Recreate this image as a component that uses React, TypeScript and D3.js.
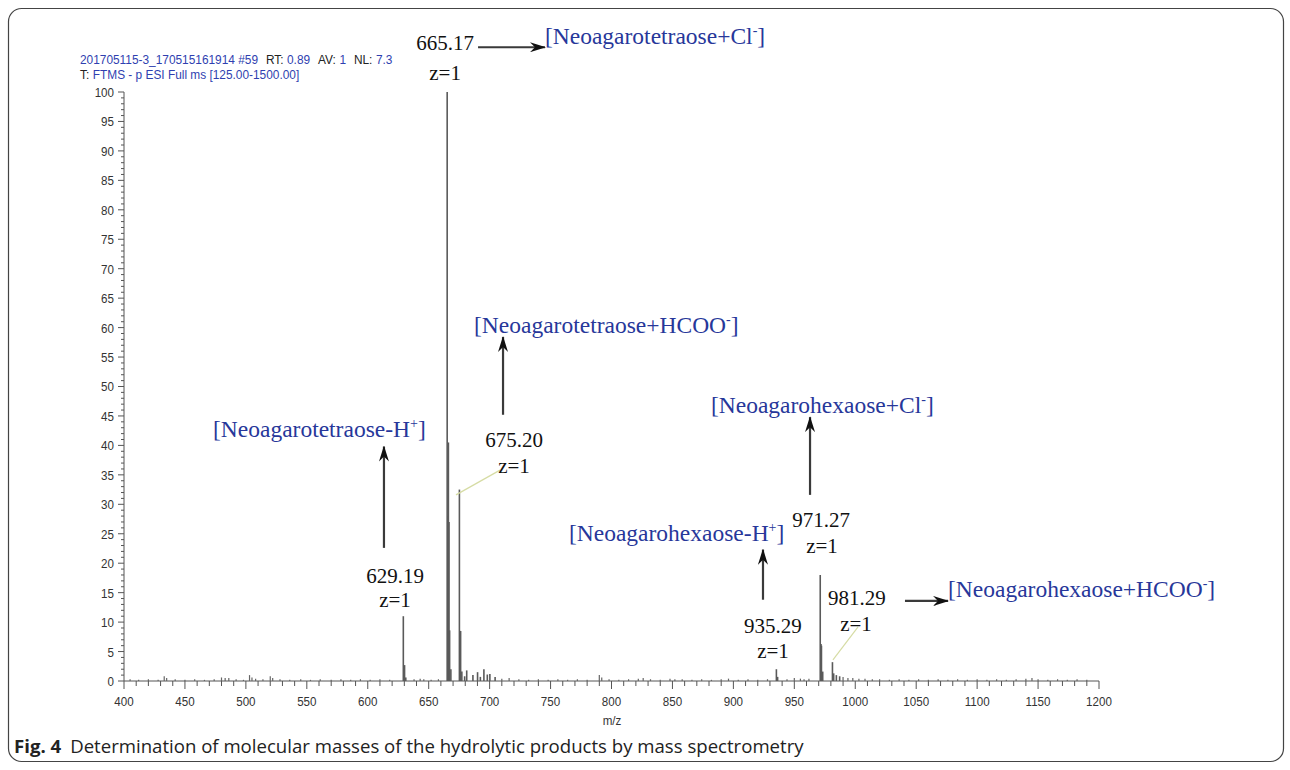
import React from "react";
import * as d3 from "d3";

// ---------- data ----------
const peakMz = [629.19, 630.2, 631.2, 665.17, 665.67, 666.17, 666.67, 667.17, 668.2, 675.2, 676.2, 677.2, 679.5, 681.2, 686.3, 690.1, 692.4, 695.3, 698.1, 700.2, 704.5, 935.29, 936.3, 971.27, 971.9, 972.27, 973.3, 981.29, 982.3, 984.5, 987.2];
const peakInt = [11.0, 2.7, 0.6, 100, 28.0, 40.5, 27.0, 8.6, 2.0, 32.5, 8.5, 1.6, 0.8, 1.8, 1.0, 1.5, 0.7, 2.0, 1.1, 1.2, 0.7, 2.0, 0.7, 18.0, 6.3, 6.0, 1.6, 3.2, 1.3, 1.0, 0.8];

const noiseMz = [405, 412, 420, 428, 433, 435, 442, 450, 458, 466, 474, 480, 483, 486, 492, 498, 503, 505, 508, 514, 520, 522, 528, 536, 545, 553, 561, 570, 578, 586, 594, 602, 610, 618, 638, 643, 646, 652, 658, 710, 716, 724, 732, 740, 748, 756, 764, 772, 780, 790, 792, 798, 806, 814, 822, 826, 832, 840, 848, 852, 858, 866, 874, 882, 890, 896, 904, 912, 920, 928, 944, 950, 955, 958, 962, 990, 994, 998, 1003, 1008, 1014, 1020, 1028, 1036, 1044, 1052, 1060, 1068, 1076, 1084, 1092, 1100, 1108, 1116, 1124, 1132, 1140, 1145, 1150, 1158, 1166, 1174, 1182, 1190];
const noiseInt = [0.3, 0.2, 0.3, 0.2, 0.8, 0.5, 0.3, 0.2, 0.3, 0.2, 0.3, 0.6, 0.5, 0.5, 0.3, 0.2, 1.0, 0.6, 0.4, 0.3, 0.8, 0.5, 0.3, 0.2, 0.3, 0.2, 0.3, 0.2, 0.3, 0.2, 0.3, 0.2, 0.3, 0.2, 0.3, 0.4, 0.3, 0.2, 0.3, 0.4, 0.5, 0.3, 0.2, 0.3, 0.2, 0.3, 0.2, 0.3, 0.2, 1.0, 0.6, 0.3, 0.2, 0.3, 0.4, 0.5, 0.3, 0.2, 0.4, 0.3, 0.3, 0.2, 0.3, 0.2, 0.3, 0.4, 0.2, 0.3, 0.2, 0.3, 0.3, 0.5, 0.4, 0.3, 0.4, 0.7, 0.5, 0.5, 0.4, 0.4, 0.3, 0.3, 0.2, 0.3, 0.2, 0.3, 0.2, 0.3, 0.2, 0.3, 0.2, 0.3, 0.2, 0.3, 0.2, 0.3, 0.4, 0.5, 0.3, 0.2, 0.3, 0.2, 0.3, 0.2];

const xTicks = d3.range(400, 1201, 50);
const yTicks = d3.range(0, 101, 5);

type Lbl = { text: string; sup?: string; mz: number; v: number; anchor: "start" | "middle"; color: string };
const ionLabels: Lbl[] = [
  { text: "[Neoagarotetraose+Cl", sup: "-", mz: 745.4, v: 108.1, anchor: "start", color: "#27379a" },
  { text: "[Neoagarotetraose+HCOO", sup: "-", mz: 687.2, v: 59.1, anchor: "start", color: "#27379a" },
  { text: "[Neoagarotetraose-H", sup: "+", mz: 473.0, v: 41.4, anchor: "start", color: "#27379a" },
  { text: "[Neoagarohexaose+Cl", sup: "-", mz: 881.6, v: 45.5, anchor: "start", color: "#27379a" },
  { text: "[Neoagarohexaose-H", sup: "+", mz: 765.1, v: 23.8, anchor: "start", color: "#27379a" },
  { text: "[Neoagarohexaose+HCOO", sup: "-", mz: 1076.1, v: 14.3, anchor: "start", color: "#27379a" },
];
const massLabels: Lbl[] = [
  { text: "665.17", mz: 663.5, v: 107.2, anchor: "middle", color: "#111" },
  { text: "z=1", mz: 663.5, v: 102.0, anchor: "middle", color: "#111" },
  { text: "675.20", mz: 720.0, v: 39.7, anchor: "middle", color: "#111" },
  { text: "z=1", mz: 720.0, v: 35.3, anchor: "middle", color: "#111" },
  { text: "629.19", mz: 622.4, v: 16.6, anchor: "middle", color: "#111" },
  { text: "z=1", mz: 622.4, v: 12.6, anchor: "middle", color: "#111" },
  { text: "971.27", mz: 971.9, v: 26.1, anchor: "middle", color: "#111" },
  { text: "z=1", mz: 972.7, v: 21.7, anchor: "middle", color: "#111" },
  { text: "935.29", mz: 932.5, v: 8.1, anchor: "middle", color: "#111" },
  { text: "z=1", mz: 932.5, v: 3.9, anchor: "middle", color: "#111" },
  { text: "981.29", mz: 1001.4, v: 12.9, anchor: "middle", color: "#111" },
  { text: "z=1", mz: 1000.6, v: 8.5, anchor: "middle", color: "#111" },
];
// arrows: [mz1, v1, mz2, v2] from -> to
const arrows = [
  [690.5, 107.6, 745.4, 107.6],
  [711.0, 45.2, 711.0, 58.4],
  [613.3, 22.6, 613.3, 39.8],
  [962.9, 31.6, 962.9, 44.8],
  [924.3, 13.8, 924.3, 22.3],
  [1040.8, 13.6, 1076.1, 13.6],
];
const leaders = [
  [672.4, 31.6, 708.5, 35.8],
  [981.7, 3.6, 1002.3, 9.2],
];

// ---------- layout ----------
const W = 1290, H = 770;
const plot = { left: 124, right: 1099, top: 92, bottom: 681 };

export default function App() {
  const x = d3.scaleLinear().domain([400, 1200]).range([plot.left, plot.right]);
  const y = d3.scaleLinear().domain([0, 100]).range([plot.bottom, plot.top]);
  const minorX = d3.range(400, 1201, 10);
  const minorY = d3.range(0, 101, 1);
  const serif = "'Liberation Serif', 'DejaVu Serif', serif";
  const sans = "'Liberation Sans', Arial, sans-serif";
  const sx = 0.86;

  return (
    <svg width={W} height={H} style={{ position: "absolute", left: 0, top: 0, background: "#fff" }}>
      <defs>
        <marker id="ah" viewBox="0 0 16 10" refX="15" refY="5" markerWidth="16" markerHeight="10" markerUnits="userSpaceOnUse" orient="auto">
          <path d="M0,0 L16,5 L0,10 L5,5 Z" fill="#111" />
        </marker>
      </defs>
      <rect x={8.5} y={8.5} width={1275} height={753} rx={13} fill="none" stroke="#444" strokeWidth={1.2} />

      {/* header */}
      <g fontFamily={sans} fontSize={13.5} transform="translate(80,0) scale(0.88,1)">
        <text y={64} fill="#2f3fb0">
          <tspan>201705115-3_170515161914 #59</tspan>
          <tspan fill="#222" dx={9}>RT:</tspan><tspan dx={4}>0.89</tspan>
          <tspan fill="#222" dx={9}>AV:</tspan><tspan dx={4}>1</tspan>
          <tspan fill="#222" dx={9}>NL:</tspan><tspan dx={4}>7.3</tspan>
        </text>
        <text y={79} fill="#2f3fb0">
          <tspan fill="#222">T:</tspan><tspan dx={4}>FTMS - p ESI Full ms [125.00-1500.00]</tspan>
        </text>
      </g>

      {/* axes */}
      <g stroke="#555" strokeWidth={1}>
        <line x1={plot.left} x2={plot.left} y1={plot.top} y2={plot.bottom} />
        <line x1={plot.left} x2={plot.right} y1={plot.bottom} y2={plot.bottom} />
        {minorY.map((v) => (
          <line key={"my" + v} x1={plot.left - (v % 5 === 0 ? 6 : 3)} x2={plot.left} y1={y(v)} y2={y(v)} />
        ))}
        {minorX.map((m) => (
          <line key={"mx" + m} x1={x(m)} x2={x(m)} y1={plot.bottom} y2={plot.bottom + (m % 50 === 0 ? 8 : 5)} />
        ))}
      </g>
      <g fontFamily={sans} fontSize={13.5} fill="#333">
        {yTicks.map((v) => (
          <text key={"yt" + v} x={(plot.left - 10) / sx} y={y(v) + 5} textAnchor="end" transform={`scale(${sx},1)`}>{v}</text>
        ))}
        {xTicks.map((m) => (
          <text key={"xt" + m} x={x(m) / sx} y={plot.bottom + 25} textAnchor="middle" transform={`scale(${sx},1)`}>{m}</text>
        ))}
        <text x={612 / sx} y={725} textAnchor="middle" transform={`scale(${sx},1)`}>m/z</text>
      </g>

      {/* spectrum */}
      <g stroke="#666" strokeWidth={1.2}>
        {noiseMz.map((m, i) => (
          <line key={"n" + i} x1={x(m)} x2={x(m)} y1={y(0)} y2={y(noiseInt[i])} />
        ))}
      </g>
      <g stroke="#5a5a5a" strokeWidth={1.6}>
        {peakMz.map((m, i) => (
          <line key={"p" + i} x1={x(m)} x2={x(m)} y1={y(0)} y2={y(peakInt[i])} />
        ))}
      </g>

      {/* leaders */}
      <g stroke="#d6dca4" strokeWidth={1.2}>
        {leaders.map((l, i) => (
          <line key={"l" + i} x1={x(l[0])} y1={y(l[1])} x2={x(l[2])} y2={y(l[3])} />
        ))}
      </g>

      {/* arrows */}
      <g stroke="#3a3a3a" strokeWidth={2.2}>
        {arrows.map((a, i) => (
          <line key={"a" + i} x1={x(a[0])} y1={y(a[1])} x2={x(a[2])} y2={y(a[3])} markerEnd="url(#ah)" />
        ))}
      </g>

      {/* labels */}
      <g fontFamily={serif} fontSize={21}>
        {massLabels.map((l, i) => (
          <text key={"m" + i} x={x(l.mz)} y={y(l.v)} textAnchor={l.anchor} fill={l.color}>{l.text}</text>
        ))}
      </g>
      <g fontFamily={serif} fontSize={23.5}>
        {ionLabels.map((l, i) => (
          <text key={"i" + i} x={x(l.mz)} y={y(l.v)} textAnchor={l.anchor} fill={l.color}>
            {l.text}
            <tspan dy={-9} fontSize={14}>{l.sup}</tspan>
            <tspan dy={9}>]</tspan>
          </text>
        ))}
      </g>

      {/* caption */}
      <text x={14} y={753} fontFamily="'Open Sans', 'Noto Sans', sans-serif" fontSize={18.6} fill="#222">
        <tspan fontWeight="bold">Fig. 4</tspan>
        <tspan dx={9}>Determination of molecular masses of the hydrolytic products by mass spectrometry</tspan>
      </text>
    </svg>
  );
}
